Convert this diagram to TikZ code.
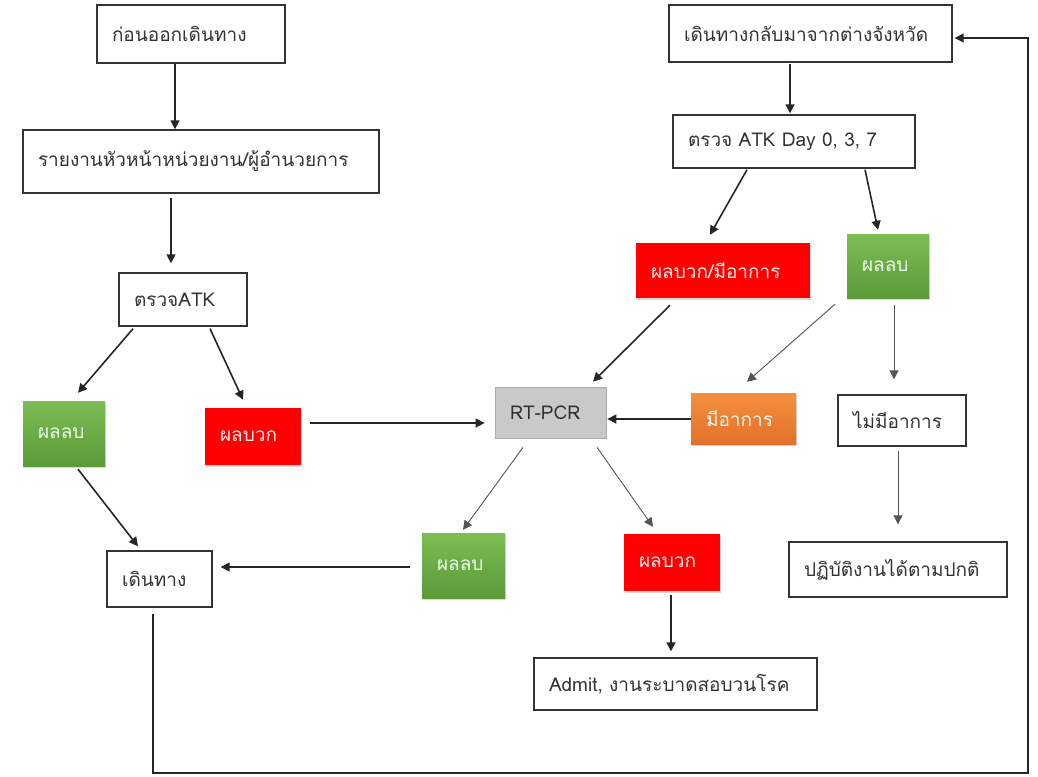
\documentclass[tikz,border=0pt]{standalone}
\usepackage{fontspec}
\setmainfont[Script=Thai]{Loma}
\usetikzlibrary{arrows.meta,calc,shadows}
\definecolor{boxline}{HTML}{333333}
\definecolor{txt}{HTML}{333333}
\definecolor{gtop}{HTML}{7CBD55}
\definecolor{gbot}{HTML}{5B9A37}
\definecolor{otop}{HTML}{F4913F}
\definecolor{obot}{HTML}{E2702A}
\definecolor{redf}{HTML}{FF0000}
\definecolor{grayf}{HTML}{C9C9C9}
\definecolor{grayl}{HTML}{ABABAB}
\definecolor{thinl}{HTML}{555555}
\tikzset{
  base/.style={rectangle, inner xsep=15pt, inner ysep=0pt, align=left,
    font=\fontsize{19}{22}\selectfont},
  wbox/.style={base, draw=boxline, line width=1.4pt, fill=white, text=txt},
  shad/.style={drop shadow={shadow xshift=1pt, shadow yshift=-2pt, opacity=0.3}},
  gbox/.style={base, shad, top color=gtop, bottom color=gbot, text=white!92!green},
  rbox/.style={base, shad, fill=redf, text=white!92!red},
  obox/.style={base, shad, top color=otop, bottom color=obot, text=white!92!orange},
  pbox/.style={base, draw=grayl, line width=0.8pt, fill=grayf, text=txt!90!black},
  arr/.style={line width=1.6pt, draw=black!85, -{Triangle[length=9pt,width=9pt]}},
  tarr/.style={line width=0.9pt, draw=thinl, -{Triangle[length=9pt,width=9pt]}}
}
\begin{document}
\begin{tikzpicture}[x=1pt,y=-1pt]
\useasboundingbox (0,0) rectangle (1038,776);
\fill[white] (0,0) rectangle (1038,776);

% left column
\node[wbox, minimum width=188pt, minimum height=58pt, text width=158pt] (n1) at (191,34) {ก่อนออกเดินทาง};
\node[wbox, minimum width=356pt, minimum height=63pt, text width=326pt] (n2) at (201,161.5) {รายงานหัวหน้าหน่วยงาน/ผู้อำนวยการ};
\node[wbox, minimum width=128pt, minimum height=53pt, text width=98pt] (n3) at (183,299.5) {ตรวจATK};
\node[gbox, minimum width=82pt, minimum height=65pt, text width=52pt] (n4) at (64,433.5) {ผลลบ};
\node[rbox, minimum width=96pt, minimum height=57pt, text width=66pt] (n5) at (253,436.5) {ผลบวก};
\node[wbox, minimum width=105pt, minimum height=56pt, text width=75pt] (n6) at (159.5,579) {เดินทาง};

% middle
\node[pbox, minimum width=111pt, minimum height=51pt, text width=81pt] (n7) at (550.5,412.5) {RT-PCR};
\node[gbox, minimum width=83pt, minimum height=65pt, text width=53pt] (n8) at (463.5,565.5) {ผลลบ};
\node[rbox, minimum width=96pt, minimum height=57pt, text width=66pt] (n9) at (672,562.5) {ผลบวก};
\node[wbox, minimum width=283pt, minimum height=52pt, text width=253pt] (n10) at (675.5,684) {Admit, งานระบาดสอบวนโรค};

% right
\node[wbox, minimum width=283pt, minimum height=57pt, text width=253pt] (n11) at (810.5,33.5) {เดินทางกลับมาจากต่างจังหวัด};
\node[wbox, minimum width=242pt, minimum height=53pt, text width=212pt] (n12) at (794,141.5) {ตรวจ ATK Day 0, 3, 7};
\node[rbox, minimum width=174pt, minimum height=55pt, text width=144pt] (n13) at (723,270.5) {ผลบวก/มีอาการ};
\node[gbox, minimum width=82pt, minimum height=64pt, text width=52pt] (n14) at (888,266) {ผลลบ};
\node[obox, minimum width=105pt, minimum height=51pt, text width=75pt] (n15) at (743.5,418.5) {มีอาการ};
\node[wbox, minimum width=128pt, minimum height=51pt, text width=98pt] (n16) at (902,420.5) {ไม่มีอาการ};
\node[wbox, minimum width=218pt, minimum height=55pt, text width=188pt] (n17) at (898,569.5) {ปฏิบัติงานได้ตามปกติ};

\coordinate (c1) at (1028,773);

% connectors
\draw[arr] ($(n1.south)+(-16,0)$) -- ($(n2.north)+(-26,0)$);
\draw[arr] ($(n2.south)+(-30,4)$) -- ($(n3.north)+(-12,-9)$);
\draw[arr] ($(n3.south)+(-50,2)$) -- ($(n4.north)+(14,-8)$);
\draw[arr] ($(n3.south)+(27,2)$) -- ($(n5.north)+(-10,-8)$);
\draw[arr] ($(n4.south)+(14,3)$) -- ($(n6.north)+(-21.5,-4)$);
\draw[arr] ($(n5.east)+(9,-13.5)$) -- ($(n7.west)+(-10,10.5)$);
\draw[arr] ($(n8.west)+(-12,1.5)$) -- ($(n6.east)+(8,-12)$);
\draw[arr, line width=1.3pt] ($(n6.south)+(-6.5,6)$) |- (c1) |- ($(n11.east)+(2,4.5)$);
\draw[arr] ($(n11.south)+(-20.5,1)$) -- ($(n12.north)+(-4,-1)$);
\draw[arr] ($(n12.south)+(-47,1)$) -- ($(n13.north)+(-13,-8)$);
\draw[arr] ($(n12.south)+(71,1)$) -- ($(n14.north)+(-10,-4)$);
\draw[arr] ($(n13.south)+(-53,7)$) -- ($(n7.north)+(42.5,-5)$);
\draw[tarr] ($(n14.south)+(-53,6)$) -- ($(n15.north)+(3.5,-11)$);
\draw[tarr] ($(n14.south)+(6,7)$) -- ($(n16.north)+(-8,-15)$);
\draw[tarr] ($(n16.south)+(-4,4)$) -- ($(n17.north)+(0,-17)$);
\draw[arr] ($(n15.west)+(0,0.5)$) -- ($(n7.east)+(1,6.5)$);
\draw[tarr] ($(n7.south)+(-27.5,9)$) -- ($(n8.north)+(-0.5,-3)$);
\draw[tarr] ($(n7.south)+(46.5,9)$) -- ($(n9.north)+(-19,-7)$);
\draw[arr] ($(n9.south)+(-1,4)$) -- ($(n10.north)+(-4.5,-6)$);
\end{tikzpicture}
\end{document}
